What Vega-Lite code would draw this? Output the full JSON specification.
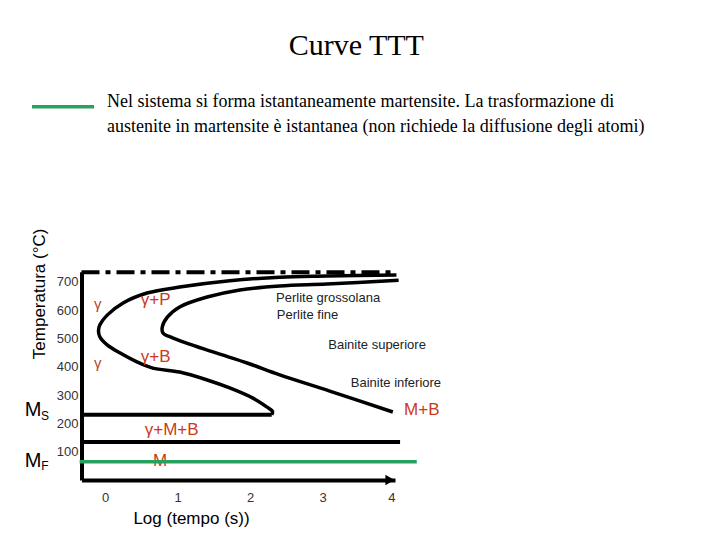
{
  "$schema": "https://vega.github.io/schema/vega-lite/v6.json",
  "autosize": {"type": "none"},
  "width": 313.5,
  "height": 208.2,
  "padding": {"left": 81.5, "top": 271.8, "right": 325, "bottom": 60},
  "background": "white",
  "title": {
    "text": "Curve TTT",
    "font": "Liberation Serif",
    "fontSize": 30,
    "fontWeight": "normal",
    "color": "black",
    "frame": "group",
    "anchor": "middle",
    "dx": 118,
    "offset": 13
  },
  "config": {
    "view": {"stroke": null}
  },
  "datasets": {
    "curve": [
      {"curva": "inizio", "ord": 1, "x": 4.02, "T": 724},
      {"curva": "inizio", "ord": 2, "x": 3.06, "T": 720},
      {"curva": "inizio", "ord": 3, "x": 2.41, "T": 716},
      {"curva": "inizio", "ord": 4, "x": 1.72, "T": 703},
      {"curva": "inizio", "ord": 5, "x": 1.03, "T": 681},
      {"curva": "inizio", "ord": 6, "x": 0.58, "T": 660},
      {"curva": "inizio", "ord": 7, "x": 0.25, "T": 625},
      {"curva": "inizio", "ord": 8, "x": 0.03, "T": 582},
      {"curva": "inizio", "ord": 9, "x": -0.07, "T": 548},
      {"curva": "inizio", "ord": 10, "x": -0.09, "T": 527},
      {"curva": "inizio", "ord": 11, "x": -0.07, "T": 505},
      {"curva": "inizio", "ord": 12, "x": 0.03, "T": 477},
      {"curva": "inizio", "ord": 13, "x": 0.21, "T": 448},
      {"curva": "inizio", "ord": 14, "x": 0.44, "T": 417},
      {"curva": "inizio", "ord": 15, "x": 0.66, "T": 395},
      {"curva": "inizio", "ord": 16, "x": 1.03, "T": 381},
      {"curva": "inizio", "ord": 17, "x": 1.41, "T": 353},
      {"curva": "inizio", "ord": 18, "x": 1.72, "T": 325},
      {"curva": "inizio", "ord": 19, "x": 2.04, "T": 289},
      {"curva": "inizio", "ord": 20, "x": 2.23, "T": 258},
      {"curva": "inizio", "ord": 21, "x": 2.31, "T": 242},
      {"curva": "inizio", "ord": 22, "x": 2.3, "T": 230},
      {"curva": "fine", "ord": 1, "x": 4.05, "T": 705},
      {"curva": "fine", "ord": 2, "x": 3.06, "T": 692},
      {"curva": "fine", "ord": 3, "x": 2.41, "T": 685},
      {"curva": "fine", "ord": 4, "x": 1.86, "T": 671},
      {"curva": "fine", "ord": 5, "x": 1.41, "T": 646},
      {"curva": "fine", "ord": 6, "x": 1.03, "T": 611},
      {"curva": "fine", "ord": 7, "x": 0.86, "T": 575},
      {"curva": "fine", "ord": 8, "x": 0.79, "T": 540},
      {"curva": "fine", "ord": 9, "x": 0.8, "T": 519},
      {"curva": "fine", "ord": 10, "x": 0.94, "T": 501},
      {"curva": "fine", "ord": 11, "x": 1.49, "T": 452},
      {"curva": "fine", "ord": 12, "x": 1.96, "T": 413},
      {"curva": "fine", "ord": 13, "x": 2.41, "T": 371},
      {"curva": "fine", "ord": 14, "x": 3.1, "T": 314},
      {"curva": "fine", "ord": 15, "x": 3.97, "T": 240}
    ],
    "orizzontali": [
      {"linea": "Ms", "x": -0.324, "T": 230},
      {"linea": "Ms", "x": 2.3, "T": 230},
      {"linea": "Mf", "x": -0.324, "T": 134},
      {"linea": "Mf", "x": 4.07, "T": 134}
    ],
    "a1": [
      {"x": -0.324, "T": 733},
      {"x": 4.02, "T": 733}
    ],
    "verde": [
      {"descrizione": "Nel sistema si forma istantaneamente martensite. La trasformazione di|austenite in martensite è istantanea (non richiede la diffusione degli atomi)", "x": -0.35, "T": 64},
      {"descrizione": "Nel sistema si forma istantaneamente martensite. La trasformazione di|austenite in martensite è istantanea (non richiede la diffusione degli atomi)", "x": 4.3, "T": 64}
    ],
    "gamma": [
      {"testo": "γ", "x": -0.1, "T": 622},
      {"testo": "γ", "x": -0.1, "T": 414}
    ],
    "fasi": [
      {"testo": "γ+P", "x": 0.7, "T": 635},
      {"testo": "γ+B", "x": 0.7, "T": 434},
      {"testo": "γ+M+B", "x": 0.92, "T": 177},
      {"testo": "M", "x": 0.76, "T": 67},
      {"testo": "M+B", "x": 4.37, "T": 247}
    ],
    "strutture": [
      {"testo": "Perlite grossolana", "x": 2.36, "T": 642},
      {"testo": "Perlite fine", "x": 2.37, "T": 582},
      {"testo": "Bainite superiore", "x": 3.08, "T": 477},
      {"testo": "Bainite inferiore", "x": 3.39, "T": 342}
    ],
    "simboli": [
      {"testo": "M", "x": -0.993, "T": 247},
      {"testo": "M", "x": -0.993, "T": 67}
    ],
    "pedici": [
      {"testo": "S", "x": -0.828, "T": 226},
      {"testo": "F", "x": -0.828, "T": 49}
    ],
    "freccia": [
      {"x": 3.93, "T": 0}
    ],
    "titoloy": [
      {"testo": "Temperatura (°C)", "x": -0.89, "T": 657}
    ]
  },
  "layer": [
    {
      "data": {"name": "a1"},
      "mark": {"type": "line", "color": "black", "strokeWidth": 4, "strokeDash": [18, 6, 5, 6]},
      "encoding": {
        "x": {
          "field": "x", "type": "quantitative",
          "scale": {"domain": [-0.324, 4.0], "nice": false, "zero": false},
          "axis": {
            "values": [0, 1, 2, 3, 4],
            "tickCount": 12,
            "format": "d",
            "grid": false, "ticks": false,
            "labelOverlap": false,
            "domainColor": "black", "domainWidth": 4,
            "labelFont": "Liberation Sans", "labelFontSize": 13, "labelColor": "#333333",
            "labelPadding": 11,
            "title": "Log (tempo (s))",
            "titleFont": "Liberation Sans", "titleFontSize": 17, "titleFontWeight": "normal",
            "titleColor": "black",
            "titleX": 109.5, "titleY": 38, "titleAlign": "center", "titleBaseline": "middle"
          }
        },
        "y": {
          "field": "T", "type": "quantitative",
          "scale": {"domain": [0, 735], "nice": false, "zero": false},
          "axis": {
            "values": [100, 200, 300, 400, 500, 600, 700],
            "tickCount": 12,
            "format": "d",
            "grid": false, "ticks": false,
            "labelOverlap": false,
            "domainColor": "black", "domainWidth": 4,
            "labelFont": "Liberation Sans", "labelFontSize": 13, "labelColor": "#333333",
            "labelPadding": 3.5,
            "title": null
          }
        }
      }
    },
    {
      "data": {"name": "curve"},
      "mark": {"type": "line", "color": "black", "strokeWidth": 3.5, "interpolate": "catmull-rom"},
      "encoding": {
        "x": {"field": "x", "type": "quantitative"},
        "y": {"field": "T", "type": "quantitative"},
        "detail": {"field": "curva"},
        "order": {"field": "ord", "type": "quantitative"}
      }
    },
    {
      "data": {"name": "orizzontali"},
      "mark": {"type": "line", "color": "black", "strokeWidth": 4},
      "encoding": {
        "x": {"field": "x", "type": "quantitative"},
        "y": {"field": "T", "type": "quantitative"},
        "detail": {"field": "linea"}
      }
    },
    {
      "data": {"name": "freccia"},
      "mark": {"type": "point", "shape": "triangle-right", "filled": true, "color": "black", "opacity": 1, "size": 110},
      "encoding": {
        "x": {"field": "x", "type": "quantitative"},
        "y": {"field": "T", "type": "quantitative"}
      }
    },
    {
      "data": {"name": "gamma"},
      "mark": {"type": "text", "font": "Liberation Sans", "fontSize": 15, "color": "#b5452e", "align": "center", "baseline": "middle"},
      "encoding": {
        "x": {"field": "x", "type": "quantitative"},
        "y": {"field": "T", "type": "quantitative"},
        "text": {"field": "testo"}
      }
    },
    {
      "data": {"name": "fasi"},
      "mark": {"type": "text", "font": "Liberation Sans", "fontSize": 17, "color": "#cc3a1a", "align": "center", "baseline": "middle"},
      "encoding": {
        "x": {"field": "x", "type": "quantitative"},
        "y": {"field": "T", "type": "quantitative"},
        "text": {"field": "testo"}
      }
    },
    {
      "data": {"name": "strutture"},
      "mark": {"type": "text", "font": "Liberation Sans", "fontSize": 13, "color": "#222222", "align": "left", "baseline": "middle"},
      "encoding": {
        "x": {"field": "x", "type": "quantitative"},
        "y": {"field": "T", "type": "quantitative"},
        "text": {"field": "testo"}
      }
    },
    {
      "data": {"name": "simboli"},
      "mark": {"type": "text", "font": "Liberation Sans", "fontSize": 20, "color": "black", "align": "center", "baseline": "middle"},
      "encoding": {
        "x": {"field": "x", "type": "quantitative"},
        "y": {"field": "T", "type": "quantitative"},
        "text": {"field": "testo"}
      }
    },
    {
      "data": {"name": "pedici"},
      "mark": {"type": "text", "font": "Liberation Sans", "fontSize": 12, "color": "black", "align": "center", "baseline": "middle"},
      "encoding": {
        "x": {"field": "x", "type": "quantitative"},
        "y": {"field": "T", "type": "quantitative"},
        "text": {"field": "testo"}
      }
    },
    {
      "data": {"name": "titoloy"},
      "mark": {"type": "text", "font": "Liberation Sans", "fontSize": 17, "color": "black", "align": "center", "baseline": "middle", "angle": 270},
      "encoding": {
        "x": {"field": "x", "type": "quantitative"},
        "y": {"field": "T", "type": "quantitative"},
        "text": {"field": "testo"}
      }
    },
    {
      "data": {"name": "verde"},
      "mark": {"type": "line", "strokeWidth": 3.5},
      "encoding": {
        "x": {"field": "x", "type": "quantitative"},
        "y": {"field": "T", "type": "quantitative"},
        "color": {
          "field": "descrizione", "type": "nominal",
          "scale": {"range": ["#27a060"]},
          "legend": {
            "title": null,
            "orient": "none",
            "legendX": -51.5,
            "legendY": -198,
            "padding": 0,
            "symbolType": "stroke",
            "symbolSize": 3844,
            "symbolStrokeWidth": 3.5,
            "labelOffset": 11,
            "labelFont": "Liberation Serif",
            "labelFontSize": 18,
            "labelColor": "black",
            "labelLimit": 900,
            "labelBaseline": "alphabetic",
            "labelExpr": "split(datum.label, '|')",
            "encode": {"labels": {"update": {"lineHeight": {"value": 25}}}}
          }
        }
      }
    }
  ]
}
